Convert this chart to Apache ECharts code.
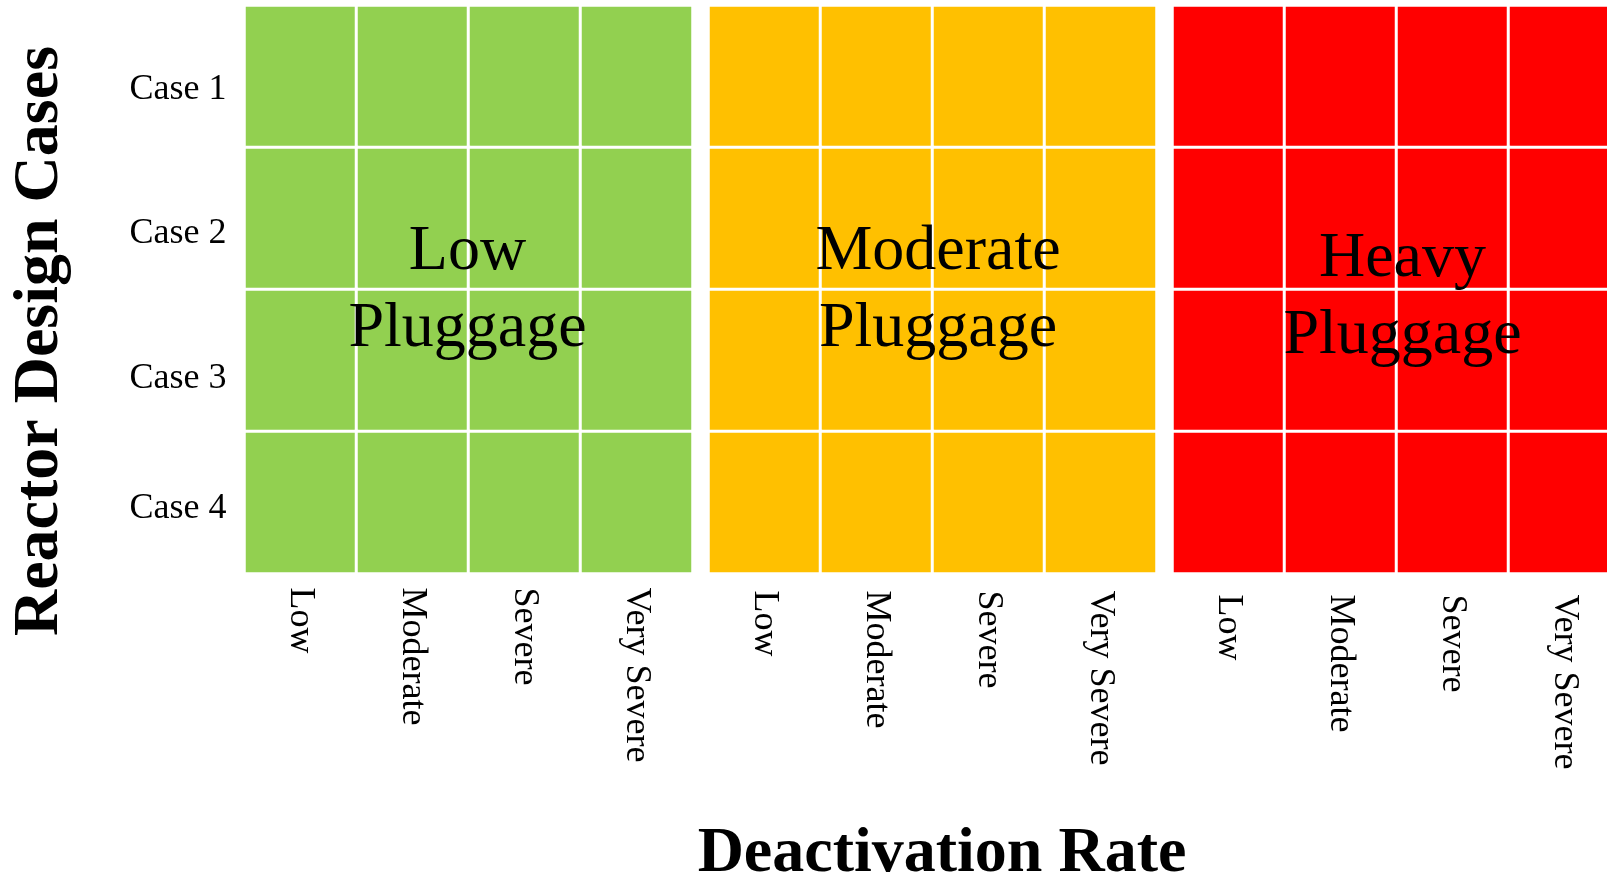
<!DOCTYPE html>
<html>
<head>
<meta charset="utf-8">
<script src="https://cdn.jsdelivr.net/npm/echarts@6/dist/echarts.min.js"></script>
<style>
  html, body { margin: 0; padding: 0; background: #fff; }
  #main { width: 1607px; height: 878px; }
</style>
</head>
<body>
<div id="main"></div>
<script>
const caseLabels = ['Case 1', 'Case 2', 'Case 3', 'Case 4']
const rateLabels = ['Low', 'Moderate', 'Severe', 'Very Severe']
const pluggageNames = ['Low\nPluggage', 'Moderate\nPluggage', 'Heavy\nPluggage']
const pluggageColors = ['#92d050', '#ffc000', '#ff0000']
// pluggage level of every cell, rows = cases, columns = deactivation rates
const lowPanel = [[0, 0, 0, 0], [0, 0, 0, 0], [0, 0, 0, 0], [0, 0, 0, 0]]
const moderatePanel = [[1, 1, 1, 1], [1, 1, 1, 1], [1, 1, 1, 1], [1, 1, 1, 1]]
const heavyPanel = [[2, 2, 2, 2], [2, 2, 2, 2], [2, 2, 2, 2], [2, 2, 2, 2]]
const panels = [lowPanel, moderatePanel, heavyPanel]

const font = '"Liberation Serif", "Times New Roman", serif'
// layout of the three blocks
const gridLeft = [244.5, 708.5, 1172.5]
const gridTop = 5.5
const gridW = 448
const gridH = 568
const labelMargin = [14, 17, 21]
const nameX = [467.5, 938, 1402.5]
const nameY = [291, 291, 298]

function toCells(panel) {
  const out = []
  panel.forEach((row, y) => {
    row.forEach((v, x) => out.push([x, y, v]))
  })
  return out
}

const chart = echarts.init(document.getElementById('main'), null, { renderer: 'canvas' })

const caseRich = (pad) => ({ fontSize: 36, fontFamily: font, color: '#000', padding: [pad, 0, 0, 0] })

const option = {
  animation: false,
  backgroundColor: '#fff',
  textStyle: { fontFamily: font },
  visualMap: {
    type: 'piecewise',
    show: false,
    seriesIndex: [0, 1, 2],
    pieces: pluggageColors.map((c, i) => ({ value: i, color: c }))
  },
  grid: panels.map((p, i) => ({
    left: gridLeft[i],
    top: gridTop,
    width: gridW,
    height: gridH,
    outerBoundsMode: 'none'
  })),
  xAxis: panels.map((p, i) => ({
    type: 'category',
    gridIndex: i,
    data: rateLabels,
    axisLine: { show: false },
    axisTick: { show: false },
    splitLine: { show: false },
    axisLabel: {
      rotate: -90,
      margin: labelMargin[i],
      fontSize: 36,
      fontFamily: font,
      color: '#000'
    }
  })),
  yAxis: panels.map((p, i) => ({
    type: 'category',
    gridIndex: i,
    inverse: true,
    data: caseLabels,
    axisLine: { show: false },
    axisTick: { show: false },
    splitLine: { show: false },
    axisLabel: {
      show: i === 0,
      margin: 18,
      fontSize: 36,
      fontFamily: font,
      color: '#000',
      formatter: (v, idx) => `{r${idx}|${v}}`,
      rich: {
        r0: caseRich(26),
        r1: caseRich(30),
        r2: caseRich(36),
        r3: caseRich(12)
      }
    }
  })),
  series: panels.map((p, i) => ({
    type: 'heatmap',
    xAxisIndex: i,
    yAxisIndex: i,
    data: toCells(p),
    itemStyle: { borderColor: '#fff', borderWidth: 3 },
    emphasis: { disabled: true },
    label: { show: false }
  })),
  title: pluggageNames.map((name, i) => ({
    text: name,
    left: nameX[i],
    top: nameY[i],
    textAlign: 'center',
    textVerticalAlign: 'middle',
    padding: 0,
    textStyle: {
      fontFamily: font,
      fontSize: 64,
      fontWeight: 'normal',
      lineHeight: 77,
      color: '#000'
    }
  })).concat([{
    text: 'Deactivation Rate',
    left: 942,
    top: 854,
    textAlign: 'center',
    textVerticalAlign: 'middle',
    padding: 0,
    textStyle: {
      fontFamily: font,
      fontSize: 64,
      fontWeight: 'bold',
      color: '#000'
    }
  }]),
  graphic: [{
    type: 'text',
    x: 40,
    y: 341,
    rotation: Math.PI / 2,
    style: {
      text: 'Reactor Design Cases',
      font: 'bold 64px ' + font,
      textAlign: 'center',
      textVerticalAlign: 'middle',
      fill: '#000'
    }
  }]
}

chart.setOption(option)
</script>
</body>
</html>
